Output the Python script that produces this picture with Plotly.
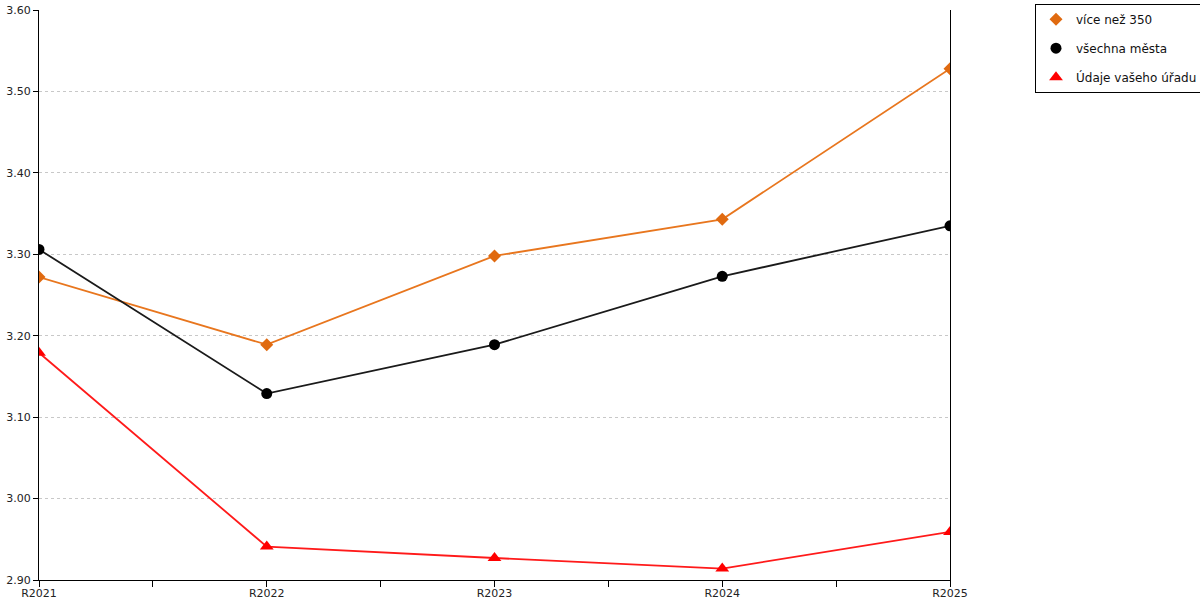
import plotly.graph_objects as go

roky = ["R2021", "R2022", "R2023", "R2024", "R2025"]
vice_nez_350 = [3.272, 3.189, 3.298, 3.343, 3.528]
vsechna_mesta = [3.306, 3.129, 3.189, 3.273, 3.335]
udaje_uradu = [3.179, 2.941, 2.927, 2.914, 2.959]

x = list(range(len(roky)))

serie = [
    ("více než 350", vice_nez_350, "#E8761E", "#E06A10", "diamond", 10),
    ("všechna města", vsechna_mesta, "#1a1a1a", "black", "circle", 11),
    ("Údaje vašeho úřadu", udaje_uradu, "#FF1A1A", "#FF0000", "triangle-up", 12),
]

fig = go.Figure()
for i, (nazev, hodnoty, barva, barva_znacky, symbol, velikost) in enumerate(serie):
    # line without legend entry, markers carry the legend (reference shows only symbols)
    fig.add_trace(go.Scatter(
        x=x, y=hodnoty, mode="lines", showlegend=False, hoverinfo="skip",
        line=dict(color=barva, width=1.8)))
    fig.add_trace(go.Scatter(
        x=x, y=hodnoty, name=nazev, mode="markers",
        marker=dict(symbol=symbol, size=velikost, color=barva_znacky),
        legendgroup=str(i)))

fig.update_layout(
    width=1200, height=600,
    margin=dict(l=39, r=250, t=10, b=20, autoexpand=False),
    plot_bgcolor="white", paper_bgcolor="white",
    font=dict(family="DejaVu Sans", size=11, color="#222"),
    legend=dict(x=1.0933, y=1.011, xanchor="left", yanchor="top",
                bordercolor="black", borderwidth=1,
                font=dict(size=12, color="#111"),
                tracegroupgap=10, itemwidth=30),
)
fig.update_xaxes(
    range=[0, 4], tickvals=x, ticktext=roky, automargin=False,
    showgrid=False, zeroline=False,
    showline=True, linecolor="black", linewidth=1,
    ticks="outside", ticklen=6, tickcolor="black", ticklabelstandoff=-3,
    minor=dict(ticks="outside", dtick=0.5, tick0=0, ticklen=6, tickcolor="black"),
    tickfont=dict(size=11),
)
fig.update_yaxes(
    range=[2.90, 3.60], dtick=0.10, tick0=2.90, tickformat=".2f", automargin=False,
    showgrid=True, gridcolor="#c8c8c8", griddash="dot", gridwidth=1,
    zeroline=False,
    showline=True, linecolor="black", linewidth=1, mirror=True,
    ticks="outside", ticklen=5, tickcolor="black",
    tickfont=dict(size=11),
)

# plotly's html page keeps the browser's default 8px body margin
fig.write_html("out.html", config={"displayModeBar": False},
               post_script="document.body.style.margin='0px';")
